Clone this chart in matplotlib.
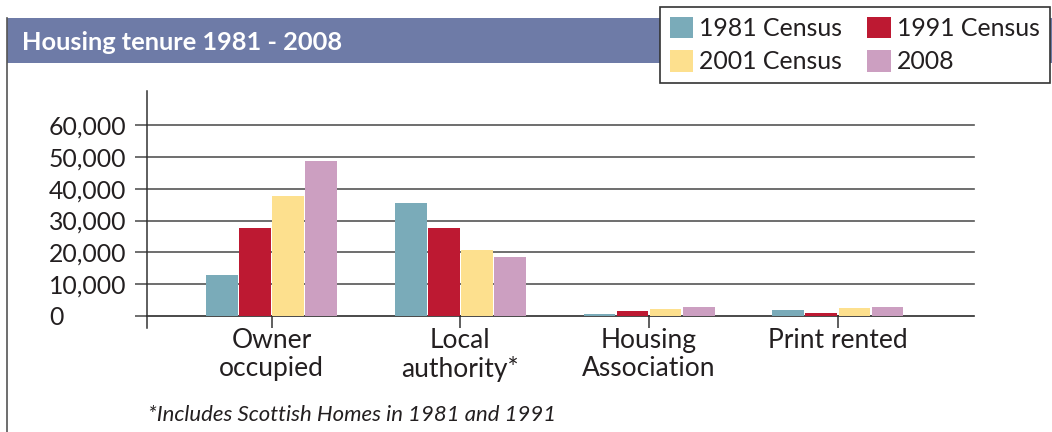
import matplotlib as mpl
mpl.use('agg')
import matplotlib.pyplot as plt
from matplotlib.patches import Rectangle, Patch
import numpy as np

plt.rcParams['font.family'] = ['Lato', 'DejaVu Sans']

categories = ["Owner\noccupied", "Local\nauthority*", "Housing\nAssociation", "Print rented"]
series = ["1981 Census", "1991 Census", "2001 Census", "2008"]
v1981 = [12800, 35600, 700, 1700]
v1991 = [27600, 27600, 1400, 1000]
v2001 = [37800, 20700, 2000, 2300]
v2008 = [48600, 18500, 2900, 2900]
colors = ['#7aabb9', '#bd1932', '#fde08e', '#cc9fc1']
yticks = [0, 10000, 20000, 30000, 40000, 50000, 60000]

W, H = 1052, 432
fig = plt.figure(figsize=(W / 100, H / 100), dpi=100)

# header band and left frame line
fig.patches.append(Rectangle((7 / W, 1 - 63 / H), 1, 45 / H, transform=fig.transFigure,
                             facecolor='#6e7ba7', edgecolor='none', zorder=0))
fig.add_artist(plt.Line2D([7 / W, 7 / W], [0, 1 - 18 / H], transform=fig.transFigure,
                          color='#555555', linewidth=1.2))
fig.text(22 / W, 1 - 42 / H, "Housing tenure 1981 - 2008", color='white', fontsize=18.3,
         fontweight='bold', va='center', ha='left')

ax = fig.add_axes([146.7 / W, 1 - 327.5 / H, (974.3 - 146.7) / W, (327.5 - 91) / H])
x = np.arange(len(categories))
step = 0.175
handles = []
for i, (vals, lab) in enumerate(zip([v1981, v1991, v2001, v2008], series)):
    ax.bar(x + (i - 1.5) * step, vals, width=0.168, color=colors[i], zorder=3)
    handles.append(Patch(facecolor=colors[i], label=lab))

ax.set_xlim(-0.662, 3.723)
ax.set_ylim(-3700, 70800)
ax.set_yticks(yticks)
ax.set_yticklabels([f"{v:,}" for v in yticks], ha='left')
for v in yticks:
    ax.axhline(v, color='#2a2a2a' if v == 0 else '#555555', linewidth=1.2, zorder=2, clip_on=False)
ax.set_xticks(x)
ax.set_xticklabels(categories, linespacing=1.15)
ax.tick_params(axis='x', direction='in', length=9.5, width=1.1, color='#333333', pad=0.5,
               labelsize=19, labelcolor='#231f20')
# labels are left aligned, starting near x=48 px
ax.tick_params(axis='y', direction='out', length=8.4, width=1.2, color='#555555', pad=62,
               labelsize=17.8, labelcolor='#231f20')
for s in ['top', 'right', 'bottom']:
    ax.spines[s].set_visible(False)
ax.spines['left'].set_color('#333333')
ax.spines['left'].set_linewidth(1.1)

leg = fig.legend(handles=[handles[0], handles[2], handles[1], handles[3]], ncol=2,
                 loc='upper right', bbox_to_anchor=(1050 / W, 1 - 7 / H), fontsize=17.9,
                 frameon=True, fancybox=False, edgecolor='#333333', framealpha=1,
                 handlelength=0.95, handleheight=0.95, handletextpad=0.25,
                 columnspacing=1.0, labelspacing=0.4, borderpad=0.4, borderaxespad=0)
leg.get_frame().set_linewidth(1.2)
for t in leg.get_texts():
    t.set_color('#231f20')

fig.text(148 / W, 1 - 415 / H, "*Includes Scottish Homes in 1981 and 1991", fontsize=15.9,
         style='italic', color='#231f20', va='center', ha='left')

fig.savefig("out.png", dpi=100)
